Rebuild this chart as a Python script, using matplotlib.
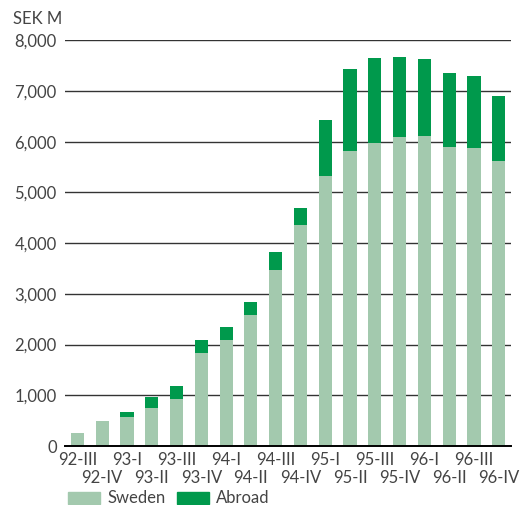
import numpy as np
import matplotlib
matplotlib.use("Agg")
import matplotlib.pyplot as plt
from matplotlib.patches import Patch

# quarterly order intake, SEK M
quarters = ["92-III", "92-IV", "93-I", "93-II", "93-III", "93-IV",
            "94-I", "94-II", "94-III", "94-IV", "95-I", "95-II",
            "95-III", "95-IV", "96-I", "96-II", "96-III", "96-IV"]
sweden = [260, 500, 580, 755, 930, 1840, 2095, 2590, 3475, 4360,
          5325, 5820, 5975, 6100, 6120, 5895, 5875, 5620]
abroad = [0, 0, 95, 215, 260, 255, 255, 240, 355, 335,
          1105, 1610, 1675, 1570, 1510, 1455, 1415, 1280]
yticks = [0, 1000, 2000, 3000, 4000, 5000, 6000, 7000, 8000]

light_green = "#a3c9ae"
dark_green = "#00994c"
text_col = "#444444"
fsize = 12

plt.rcParams["font.family"] = ["Lato", "DejaVu Sans"]
plt.rcParams["font.size"] = fsize

fig = plt.figure(figsize=(5.2, 5.05), dpi=100)
ax = fig.add_axes([0.125, 0.1168, 0.858, 0.8036])

x = np.arange(len(quarters))
ax.bar(x, sweden, width=0.53, color=light_green, zorder=3)
ax.bar(x, abroad, width=0.53, bottom=sweden, color=dark_green, zorder=3)

ax.set_xlim(-0.5, 17.5)
ax.set_ylim(0, 8000)
ax.set_yticks(yticks)
ax.set_yticklabels([f"{v:,}" for v in yticks])
ax.yaxis.grid(True, color="#333333", linewidth=1.0, zorder=0)
ax.tick_params(axis="y", length=0, colors=text_col, labelsize=fsize, pad=6)

# quarter labels in two staggered rows
ax.set_xticks([])
trans = ax.get_xaxis_transform()
for i, q in enumerate(quarters):
    yy = -14 / 406 if i % 2 == 0 else -32 / 406
    ax.text(x[i], yy, q, transform=trans, ha="center", va="center",
            color=text_col, fontsize=fsize, clip_on=False)

for s in ["top", "right", "left"]:
    ax.spines[s].set_visible(False)
ax.spines["bottom"].set_color("black")
ax.spines["bottom"].set_linewidth(1.4)
ax.spines["bottom"].set_zorder(4)

fig.text(0.025, 0.963, "SEK M", color=text_col, fontsize=fsize, va="center")

handles = [Patch(color=light_green, label="Sweden"),
           Patch(color=dark_green, label="Abroad")]
fig.legend(handles=handles, loc="center left", bbox_to_anchor=(0.115, 0.013),
           ncol=2, frameon=False, handlelength=1.9, handleheight=0.75,
           handletextpad=0.45, columnspacing=0.7, labelcolor=text_col,
           borderpad=0.0)

fig.savefig("out.png", dpi=100)
